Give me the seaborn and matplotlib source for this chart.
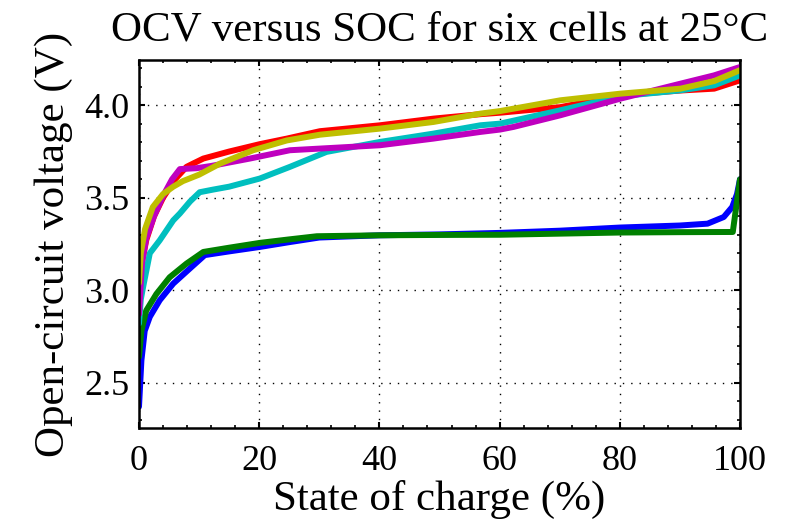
import numpy as np
import pandas as pd
import matplotlib
matplotlib.use("Agg")
import matplotlib.pyplot as plt
import seaborn as sns
from matplotlib.ticker import MultipleLocator

title = "OCV versus SOC for six cells at 25°C"
xlabel = "State of charge (%)"
ylabel = "Open-circuit voltage (V)"

soc_blue = [0, 0.4, 0.95, 1.8, 3.45, 5.7, 8.45, 10.95, 15, 20.1, 25, 30, 40, 50, 60, 70, 80, 90, 94.6, 97.3, 98.7, 99.5, 100]
v_blue = [2.37, 2.62, 2.78, 2.856, 2.946, 3.036, 3.117, 3.19, 3.21, 3.234, 3.26, 3.285, 3.297, 3.302, 3.31, 3.322, 3.339, 3.35, 3.36, 3.396, 3.45, 3.52, 3.6]

soc_green = [0, 0.4, 1.2, 2.9, 5.1, 7.9, 10.7, 15, 20.1, 25, 29.6, 40, 50, 60, 70, 80, 90, 98.8, 100]
v_green = [2.64, 2.78, 2.89, 2.98, 3.07, 3.144, 3.207, 3.23, 3.256, 3.275, 3.292, 3.297, 3.299, 3.30, 3.306, 3.312, 3.314, 3.315, 3.60]

soc_red = [0, 0.5, 1.2, 2.5, 4, 6, 7.9, 9, 10.7, 15, 20.1, 24.6, 30.1, 40.1, 49, 56.8, 60.1, 70.1, 80.1, 90.1, 95.7, 100]
v_red = [3.0, 3.15, 3.27, 3.4, 3.5, 3.6, 3.667, 3.685, 3.712, 3.75, 3.79, 3.82, 3.86, 3.892, 3.928, 3.952, 3.96, 3.99, 4.054, 4.08, 4.09, 4.135]

soc_cyan = [0, 0.3, 0.7, 1.8, 3.45, 5.7, 6.8, 8.5, 10.1, 12.3, 15, 20.1, 25.1, 31.2, 40.1, 49, 56.8, 60.1, 70.1, 80.1, 90.1, 95.7, 100]
v_cyan = [2.82, 2.95, 3.02, 3.2, 3.27, 3.378, 3.415, 3.48, 3.53, 3.544, 3.56, 3.604, 3.667, 3.748, 3.802, 3.847, 3.892, 3.901, 3.973, 4.049, 4.081, 4.108, 4.162]

soc_magenta = [0, 0.5, 1.2, 2.5, 4.0, 5.5, 6.8, 9.6, 12, 18.45, 25.1, 30.1, 35.1, 40.1, 49, 56.8, 60.1, 62.3, 70.1, 80.1, 90.1, 95.7, 100]
v_magenta = [2.87, 3.15, 3.28, 3.40, 3.51, 3.60, 3.655, 3.66, 3.672, 3.712, 3.757, 3.766, 3.775, 3.784, 3.82, 3.856, 3.869, 3.883, 3.946, 4.036, 4.117, 4.162, 4.207]

soc_yellow = [0, 0.3, 1, 2.3, 4, 5.7, 7.3, 10, 13.5, 19, 24.6, 30.1, 40.1, 49, 56.8, 60.1, 70.1, 80.1, 90.1, 95.7, 100]
v_yellow = [3.04, 3.2, 3.33, 3.45, 3.52, 3.56, 3.59, 3.625, 3.685, 3.757, 3.81, 3.841, 3.874, 3.91, 3.955, 3.969, 4.027, 4.063, 4.09, 4.131, 4.19]

cells = ["blue", "green", "red", "cyan", "magenta", "yellow"]
colors = [(0, 0, 1), (0, 0.5, 0), (1, 0, 0), (0, 0.75, 0.75), (0.75, 0, 0.75), (0.75, 0.75, 0)]
socs = [soc_blue, soc_green, soc_red, soc_cyan, soc_magenta, soc_yellow]
vs = [v_blue, v_green, v_red, v_cyan, v_magenta, v_yellow]

frames = []
for name, s, v in zip(cells, socs, vs):
    frames.append(pd.DataFrame({"SOC": s, "OCV": v, "cell": name}))
df = pd.concat(frames, ignore_index=True)

sns.set_theme(style="white")
plt.rcParams["font.family"] = ["Liberation Serif", "DejaVu Serif"]
plt.rcParams["text.color"] = "black"
plt.rcParams["axes.labelcolor"] = "black"
plt.rcParams["xtick.color"] = "black"
plt.rcParams["ytick.color"] = "black"

fig = plt.figure(figsize=(7.86, 5.26), dpi=100)
ax = fig.add_axes([139 / 786, 1 - 428 / 526, (740 - 139) / 786, (428 - 60) / 526])

sns.lineplot(data=df, x="SOC", y="OCV", hue="cell", hue_order=cells,
             palette=dict(zip(cells, colors)), sort=False, estimator=None,
             linewidth=4.3, legend=False, ax=ax)

ax.set_xlim(0, 100)
ax.set_ylim(2.255, 4.245)
ax.xaxis.set_major_locator(MultipleLocator(20))
ax.xaxis.set_minor_locator(MultipleLocator(4))
ax.yaxis.set_major_locator(MultipleLocator(0.5))
ax.yaxis.set_minor_locator(MultipleLocator(0.1))
ax.set_yticks([2.5, 3.0, 3.5, 4.0])
ax.set_yticklabels(["2.5", "3.0", "3.5", "4.0"])
ax.tick_params(which="both", direction="in", top=True, right=True, bottom=True, left=True,
               colors="black", labelcolor="black", labelsize=26)
ax.tick_params(which="major", length=4, width=1.5)
ax.tick_params(axis="x", which="major", pad=12)
ax.tick_params(axis="y", which="major", pad=7)
ax.tick_params(which="minor", length=2.5, width=1.2)
ax.grid(True, which="major", color="black", linestyle=(0, (1, 5)), linewidth=1.0)
for sp in ax.spines.values():
    sp.set_visible(True)
    sp.set_color("black")
    sp.set_linewidth(1.8)

ax.set_title(title, fontsize=31, pad=14, color="black")
ax.set_xlabel(xlabel, fontsize=31, labelpad=2, color="black")
ax.set_ylabel(ylabel, fontsize=31, labelpad=8, color="black")

fig.savefig("out.png", dpi=100)
